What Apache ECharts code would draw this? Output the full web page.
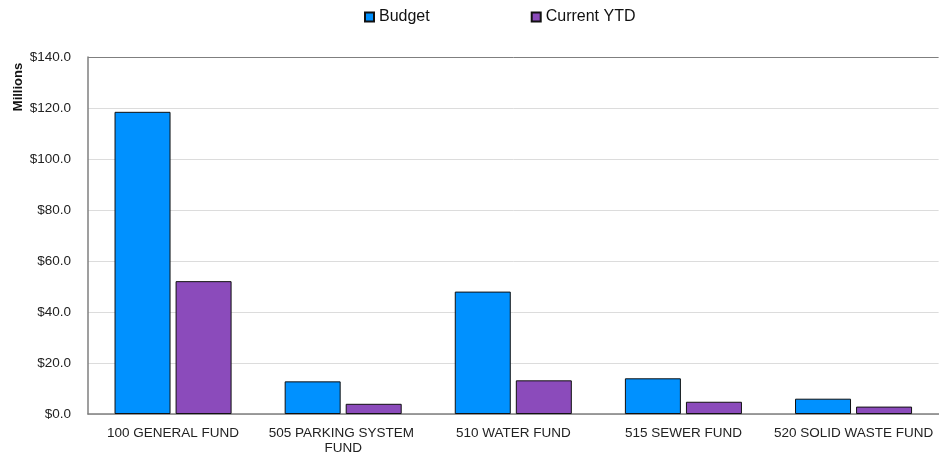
<!DOCTYPE html>
<html>
<head>
<meta charset="utf-8">
<script src="https://cdn.jsdelivr.net/npm/echarts@6/dist/echarts.min.js"></script>
<style>
html,body{margin:0;padding:0;background:#fff;}
#chart{width:939px;height:456px;}
</style>
</head>
<body>
<div id="chart"></div>
<script>
var categories = ['100 GENERAL FUND', '505 PARKING SYSTEM FUND', '510 WATER FUND', '515 SEWER FUND', '520 SOLID WASTE FUND'];
var budget = [118.5, 12.8, 48.0, 14.0, 6.0];
var currentYTD = [52.1, 4.0, 13.2, 4.8, 2.9];
var seriesNames = ['Budget', 'Current YTD'];
var yAxisTitle = 'Millions';

var chart = echarts.init(document.getElementById('chart'), null, {renderer: 'canvas'});
var font = 'Liberation Sans, Arial, sans-serif';
chart.setOption({
  animation: false,
  backgroundColor: '#fff',
  textStyle: {fontFamily: font},
  legend: {
    data: seriesNames,
    top: 9,
    left: 364,
    padding: 0,
    itemWidth: 9,
    itemHeight: 9,
    itemGap: 101,
    icon: 'rect',
    textStyle: {fontSize: 16, color: '#111', fontFamily: font}
  },
  grid: {
    left: 88, right: 0, top: 57, bottom: 40
  },
  graphic: [{
    type: 'text',
    x: 12, y: 87,
    rotation: Math.PI / 2,
    style: {
      text: yAxisTitle,
      font: 'bold 13px ' + font,
      fill: '#111',
      textAlign: 'center',
      textVerticalAlign: 'top'
    }
  }],
  xAxis: {
    type: 'category',
    data: categories,
    axisLine: {lineStyle: {color: '#7f7f7f', width: 1.5}},
    axisTick: {show: false},
    axisLabel: {
      interval: 0,
      margin: 12,
      fontSize: 13.5,
      lineHeight: 15,
      color: '#222',
      width: 165,
      overflow: 'break',
      fontFamily: font
    }
  },
  yAxis: {
    type: 'value',
    min: 0, max: 140, interval: 20,
    axisLine: {show: true, lineStyle: {color: '#7f7f7f', width: 1.5}},
    axisTick: {show: false},
    splitLine: {lineStyle: {color: ['#dcdcdc', '#dcdcdc', '#dcdcdc', '#dcdcdc', '#dcdcdc', '#dcdcdc', '#dcdcdc', '#7f7f7f'], width: 1}},
    axisLabel: {
      margin: 17,
      fontSize: 13.5,
      color: '#222',
      fontFamily: font,
      formatter: function (v) { return '$' + v.toFixed(1); }
    }
  },
  series: [{
    name: seriesNames[0],
    type: 'bar',
    data: budget,
    barWidth: 56,
    barGap: '9%',
    itemStyle: {color: '#0091FF', borderColor: '#111', borderWidth: 1}
  }, {
    name: seriesNames[1],
    type: 'bar',
    data: currentYTD,
    barWidth: 56,
    barGap: '9%',
    itemStyle: {color: '#8B4BBB', borderColor: '#111', borderWidth: 1}
  }]
});
</script>
</body>
</html>
